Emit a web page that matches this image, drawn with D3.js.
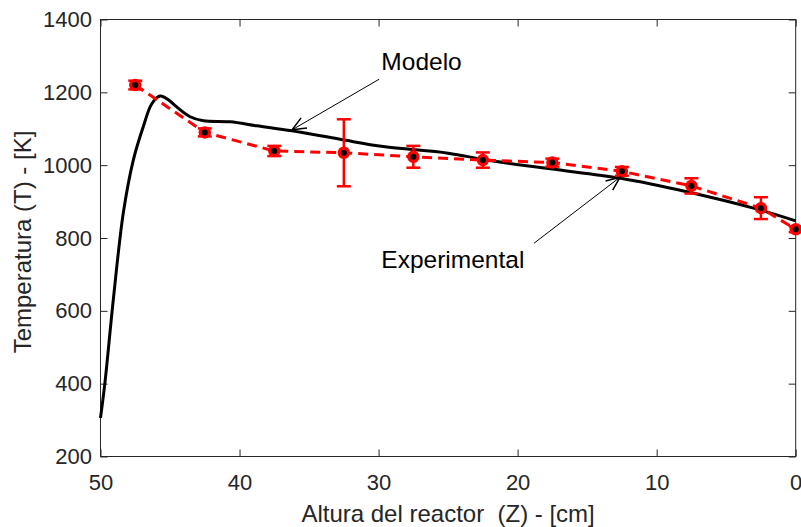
<!DOCTYPE html>
<html><head><meta charset="utf-8">
<script src="https://cdn.jsdelivr.net/npm/d3@7"></script>
<style>body{margin:0;background:#fff}svg{display:block}</style>
</head><body>
<svg id="c" width="801" height="527"></svg>
<script>
// ---- data ----
const xTicks = [50, 40, 30, 20, 10, 0];
const yTicks = [200, 400, 600, 800, 1000, 1200, 1400];
const modelZ = [50, 49.68, 49.08, 48.36, 47.64, 46.92, 46.32, 45.72, 45.1, 44.52, 43.56, 42.6, 40.68, 38.76, 36.37, 32.77, 29.66, 25, 22.22, 17.66, 12.59, 7.83, 3.04, 0];
const modelT = [306, 403, 630, 869, 1014, 1106, 1168, 1190, 1179, 1160, 1133, 1122, 1119, 1108, 1095, 1071, 1051, 1033, 1014, 990, 964, 927, 882, 847];
const expZ = [47.5, 42.5, 37.5, 32.5, 27.5, 22.5, 17.5, 12.5, 7.5, 2.5, 0];
const expT = [1220, 1090, 1039, 1034, 1023, 1014, 1007, 983, 943, 882, 824];
const expErr = [12, 11, 14, 92, 30, 21, 11, 12, 21, 30, 8];
const annLabels = ["Modelo", "Experimental"];
const annTextPos = [[29.8, 1262], [29.8, 718]];      // z, T of text left/baseline
const annArrowFrom = [[29.96, 1236], [18.81, 786]];
const annArrowTo = [[36.22, 1097], [12.63, 967]];
const xLabel = "Altura del reactor  (Z) - [cm]";
const yLabel = "Temperatura (T) - [K]";

// ---- layout ----
const svg = d3.select("#c");
const X0 = 100.5, X1 = 795.7, Y0 = 456.5, Y1 = 19.5;
const x = d3.scaleLinear().domain([50, 0]).range([X0, X1]);
const y = d3.scaleLinear().domain([200, 1400]).range([Y0, Y1]);
const axCol = "#262626";
const font = "'Liberation Sans', Arial, Helvetica, sans-serif";
const fs = 22;

function styleAxis(g) {
  g.select(".domain").remove();
  g.selectAll(".tick line").attr("stroke", axCol).attr("stroke-width", 1);
  g.selectAll(".tick text").attr("fill", axCol).style("font-family", font).style("font-size", fs + "px");
}
svg.append("g").attr("transform", `translate(0,${Y0})`)
  .call(d3.axisBottom(x).tickValues(xTicks).tickSizeInner(-7).tickSizeOuter(0).tickPadding(18).tickFormat(d3.format("d")))
  .call(styleAxis);
svg.append("g").attr("transform", `translate(0,${Y1})`)
  .call(d3.axisTop(x).tickValues(xTicks).tickSizeInner(-7).tickSizeOuter(0).tickFormat(""))
  .call(styleAxis);
svg.append("g").attr("transform", `translate(${X0},0)`)
  .call(d3.axisLeft(y).tickValues(yTicks).tickSizeInner(-7).tickSizeOuter(0).tickPadding(8.5).tickFormat(d3.format("d")))
  .call(styleAxis);
svg.append("g").attr("transform", `translate(${X1},0)`)
  .call(d3.axisRight(y).tickValues(yTicks).tickSizeInner(-7).tickSizeOuter(0).tickFormat(""))
  .call(styleAxis);
svg.append("rect").attr("x", X0).attr("y", Y1).attr("width", X1 - X0).attr("height", Y0 - Y1)
  .attr("fill", "none").attr("stroke", axCol).attr("stroke-width", 1);

// axis titles
svg.append("text").attr("x", (X0 + X1) / 2).attr("y", 522).attr("text-anchor", "middle")
  .attr("xml:space", "preserve").style("white-space", "pre")
  .attr("fill", axCol).style("font-family", font).style("font-size", "24px").text(xLabel);
svg.append("text").attr("transform", `translate(31,${(Y0 + Y1) / 2 + 4}) rotate(-90)`).attr("text-anchor", "middle")
  .attr("fill", axCol).style("font-family", font).style("font-size", "24px").text(yLabel);

// model curve
const modelData = modelZ.map((z, i) => [z, modelT[i]]);
svg.append("path").datum(modelData)
  .attr("d", d3.line().x(d => x(d[0])).y(d => y(d[1])).curve(d3.curveCatmullRom.alpha(0.5)))
  .attr("fill", "none").attr("stroke", "#000").attr("stroke-width", 3);

// experimental
const expData = expZ.map((z, i) => ({z, t: expT[i], e: expErr[i]}));
svg.append("path").datum(expData)
  .attr("d", d3.line().x(d => x(d.z)).y(d => y(d.t)))
  .attr("fill", "none").attr("stroke", "#ff0000").attr("stroke-width", 3).attr("stroke-dasharray", "10,6");
const eb = svg.append("g").attr("stroke", "#ff0000").attr("stroke-width", 2.5);
expData.forEach(d => {
  const cx = x(d.z), yt = y(d.t + d.e), yb = y(d.t - d.e);
  eb.append("line").attr("x1", cx).attr("x2", cx).attr("y1", yt).attr("y2", yb);
  eb.append("line").attr("x1", cx - 7).attr("x2", cx + 7).attr("y1", yt).attr("y2", yt);
  eb.append("line").attr("x1", cx - 7).attr("x2", cx + 7).attr("y1", yb).attr("y2", yb);
});
svg.append("g").selectAll("circle").data(expData).join("circle")
  .attr("cx", d => x(d.z)).attr("cy", d => y(d.t)).attr("r", 5)
  .attr("fill", "#ff0000").attr("stroke", "#ff0000").attr("stroke-width", 2.5);
svg.append("g").selectAll("circle").data(expData).join("circle")
  .attr("cx", d => x(d.z)).attr("cy", d => y(d.t)).attr("r", 3).attr("fill", "#000");

// annotations
annLabels.forEach((lab, i) => {
  const [fz, ft] = annArrowFrom[i], [tz, tt] = annArrowTo[i];
  const x1 = x(fz), y1 = y(ft), x2 = x(tz), y2 = y(tt);
  svg.append("line").attr("x1", x1).attr("y1", y1).attr("x2", x2).attr("y2", y2)
    .attr("stroke", "#000").attr("stroke-width", 1);
  const ang = Math.atan2(y1 - y2, x1 - x2), L = 15, a = 0.4;
  const p1 = [x2 + L * Math.cos(ang + a), y2 + L * Math.sin(ang + a)];
  const p2 = [x2 + L * Math.cos(ang - a), y2 + L * Math.sin(ang - a)];
  svg.append("path").attr("d", `M${p1}L${x2},${y2}L${p2}`)
    .attr("fill", "none").attr("stroke", "#000").attr("stroke-width", 1.5);
  svg.append("text").attr("x", x(annTextPos[i][0])).attr("y", y(annTextPos[i][1]))
    .attr("fill", "#000").style("font-family", font).style("font-size", "24.5px").text(lab);
});
</script>
</body></html>
